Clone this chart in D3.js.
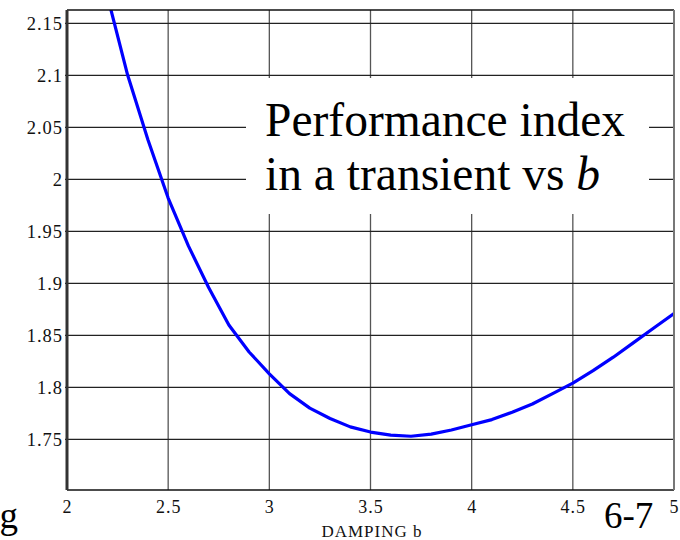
<!DOCTYPE html>
<html>
<head>
<meta charset="utf-8">
<script src="https://cdn.jsdelivr.net/npm/d3@7"></script>
<style>
  body { margin: 0; background: #fff; }
  svg { display: block; }
  text { font-family: "Liberation Serif", "Times New Roman", serif; }
</style>
</head>
<body>
<div id="chart"></div>
<script>
// ---- data ----
const dampingB = [2.2, 2.3, 2.4, 2.5, 2.6, 2.7, 2.8, 2.9, 3.0, 3.1, 3.2, 3.3, 3.4, 3.5, 3.6, 3.7, 3.8, 3.9, 4.0, 4.1, 4.2, 4.3, 4.4, 4.5, 4.6, 4.7, 4.8, 4.9, 5.0];
const perfIndex = [2.176, 2.100, 2.038, 1.982, 1.936, 1.896, 1.860, 1.834, 1.813, 1.794, 1.780, 1.770, 1.762, 1.757, 1.754, 1.753, 1.755, 1.759, 1.764, 1.769, 1.776, 1.784, 1.794, 1.804, 1.816, 1.829, 1.843, 1.857, 1.871];
const xTicks = [2, 2.5, 3, 3.5, 4, 4.5, 5];
const yTicks = [1.75, 1.8, 1.85, 1.9, 1.95, 2, 2.05, 2.1, 2.15];
const xLabel = "DAMPING b";
const titleLine1 = "Performance index";
const titleLine2 = "in a transient vs ";
const titleVar = "b";
const slideNum = "6-7";
const strayChar = "g";

// ---- layout ----
const W = 680, H = 540;
const L = 67, R = 674, T = 10, B = 490;

const svg = d3.select("#chart").append("svg")
  .attr("width", W).attr("height", H);
svg.append("rect").attr("width", W).attr("height", H).attr("fill", "#fff");

const x = d3.scaleLinear().domain([2, 5]).range([L, R]);
const y = d3.scaleLinear().domain([1.7013, 2.1628]).range([B, T]);

// grid
svg.append("g").selectAll("line").data(xTicks.slice(1, -1)).join("line")
  .attr("x1", d => x(d)).attr("x2", d => x(d))
  .attr("y1", T).attr("y2", B)
  .attr("stroke", "#555").attr("stroke-width", 1.3);
svg.append("g").selectAll("line").data(yTicks).join("line")
  .attr("x1", L - 2).attr("x2", R)
  .attr("y1", d => y(d)).attr("y2", d => y(d))
  .attr("stroke", "#222").attr("stroke-width", 1.2);

// curve
svg.append("defs").append("clipPath").attr("id", "clip")
  .append("rect").attr("x", L).attr("y", T).attr("width", R - L).attr("height", B - T);
const pts = dampingB.map((b, i) => [b, perfIndex[i]]);
svg.append("path").datum(pts)
  .attr("clip-path", "url(#clip)")
  .attr("fill", "none").attr("stroke", "#0000ff").attr("stroke-width", 3.2)
  .attr("stroke-linejoin", "round")
  .attr("d", d3.line().x(d => x(d[0])).y(d => y(d[1])));

// frame
svg.append("line").attr("x1", L).attr("x2", R).attr("y1", T).attr("y2", T).attr("stroke", "#111").attr("stroke-width", 1.5);
svg.append("line").attr("x1", L).attr("x2", R).attr("y1", B).attr("y2", B).attr("stroke", "#111").attr("stroke-width", 1.5);
svg.append("line").attr("x1", R).attr("x2", R).attr("y1", T).attr("y2", B).attr("stroke", "#777").attr("stroke-width", 2);
svg.append("line").attr("x1", L).attr("x2", L).attr("y1", T).attr("y2", B).attr("stroke", "#333").attr("stroke-width", 3);

// axes labels
const yAxis = d3.axisLeft(y).tickValues(yTicks).tickSize(0).tickPadding(4).tickFormat(d => String(+d.toFixed(2)));
const gy = svg.append("g").attr("transform", `translate(${L},0)`).call(yAxis);
gy.select(".domain").remove();
gy.attr("font-size", 18.5).attr("font-family", "Liberation Serif");
gy.selectAll("text").attr("letter-spacing", 1).attr("fill", "#111");

const xAxis = d3.axisBottom(x).tickValues(xTicks).tickSize(0).tickPadding(10).tickFormat(d => String(d));
const gx = svg.append("g").attr("transform", `translate(0,${B})`).call(xAxis);
gx.select(".domain").remove();
gx.attr("font-size", 18).attr("font-family", "Liberation Serif");
gx.selectAll("text").attr("letter-spacing", 1).attr("fill", "#111");

svg.append("text").attr("x", 372).attr("y", 537).attr("text-anchor", "middle")
  .attr("font-size", 17).attr("letter-spacing", 1).attr("fill", "#111").text(xLabel);

// text box
svg.append("rect").attr("x", 246).attr("y", 78).attr("width", 403).attr("height", 136).attr("fill", "#fff");
svg.append("text").attr("x", 265).attr("y", 136).attr("font-size", 47.5).attr("fill", "#000").text(titleLine1);
const t2 = svg.append("text").attr("x", 265).attr("y", 190).attr("font-size", 47.5).attr("fill", "#000");
t2.append("tspan").text(titleLine2);
t2.append("tspan").attr("font-style", "italic").text(titleVar);

// slide number and stray char
svg.append("text").attr("x", 604).attr("y", 528).attr("font-size", 37).attr("fill", "#000").text(slideNum);
svg.append("text").attr("x", 18).attr("y", 528).attr("text-anchor", "end").attr("font-size", 37).attr("fill", "#000").text(strayChar);
</script>
</body>
</html>
